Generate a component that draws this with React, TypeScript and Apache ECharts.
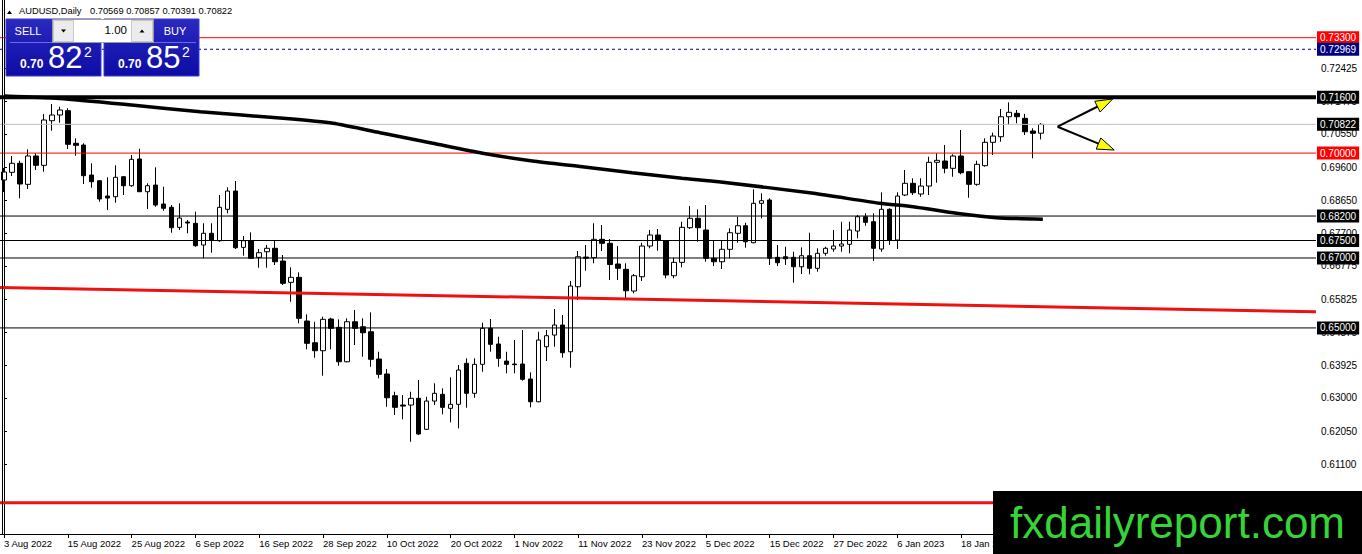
import { useEffect, useRef } from "react";
import * as echarts from "echarts";

// ---------- data ----------
const augDays = [3, 4, 5, 8, 9, 10, 11, 12, 15, 16, 17, 18, 19, 22, 23, 24, 25, 26, 29, 30, 31];
const sepDays = [1, 2, 5, 6, 7, 8, 9, 12, 13, 14, 15, 16, 19, 20, 21, 22, 23, 26, 27, 28, 29, 30];
const octDays = [3, 4, 5, 6, 7, 10, 11, 12, 13, 14, 17, 18, 19, 20, 21, 24, 25, 26, 27, 28, 31];
const novDays = [1, 2, 3, 4, 7, 8, 9, 10, 11, 14, 15, 16, 17, 18, 21, 22, 23, 24, 25, 28, 29, 30];
const decDays = [1, 2, 5, 6, 7, 8, 9, 12, 13, 14, 15, 16, 19, 20, 21, 22, 23, 26, 27, 28, 29, 30];
const janDays = [2, 3, 4, 5, 6, 9, 10, 11, 12, 13, 16, 17, 18, 19, 20, 23, 24, 25, 26, 27, 30, 31];
const febDays = [1];

const dates: string[] = [
  ...augDays.map((d) => `${d} Aug 2022`),
  ...sepDays.map((d) => `${d} Sep 2022`),
  ...octDays.map((d) => `${d} Oct 2022`),
  ...novDays.map((d) => `${d} Nov 2022`),
  ...decDays.map((d) => `${d} Dec 2022`),
  ...janDays.map((d) => `${d} Jan 2023`),
  ...febDays.map((d) => `${d} Feb 2023`),
];

// empty bars to the right of the last candle (chart shift)
const FUTURE_SLOTS = 34;

// [open, high, low, close]
const candles: [number, number, number, number][] = [
  [0.69230, 0.69573, 0.68887, 0.69459],
  [0.69450, 0.69916, 0.69344, 0.69708],
  [0.69708, 0.69782, 0.68707, 0.69116],
  [0.69107, 0.70108, 0.68973, 0.69916],
  [0.69916, 0.69994, 0.69516, 0.69650],
  [0.69650, 0.71118, 0.69467, 0.70946],
  [0.70926, 0.71404, 0.70640, 0.71089],
  [0.71089, 0.71326, 0.70869, 0.71232],
  [0.71212, 0.71281, 0.70117, 0.70251],
  [0.70280, 0.70423, 0.69925, 0.70222],
  [0.70231, 0.70280, 0.69116, 0.69353],
  [0.69373, 0.69708, 0.69010, 0.69181],
  [0.69210, 0.69230, 0.68609, 0.68687],
  [0.68772, 0.69307, 0.68372, 0.68715],
  [0.68752, 0.69650, 0.68581, 0.69307],
  [0.69324, 0.69344, 0.68801, 0.69067],
  [0.69067, 0.69945, 0.69038, 0.69822],
  [0.69831, 0.70125, 0.68890, 0.68895],
  [0.68895, 0.69136, 0.68401, 0.69067],
  [0.69087, 0.69593, 0.68466, 0.68515],
  [0.68544, 0.69038, 0.68352, 0.68421],
  [0.68449, 0.68515, 0.67723, 0.67866],
  [0.67877, 0.68564, 0.67800, 0.68143],
  [0.68029, 0.68086, 0.67706, 0.68000],
  [0.67992, 0.68323, 0.67322, 0.67351],
  [0.67371, 0.67992, 0.66991, 0.67706],
  [0.67706, 0.67992, 0.67151, 0.67514],
  [0.67494, 0.68801, 0.67465, 0.68449],
  [0.68392, 0.69021, 0.68278, 0.68915],
  [0.68915, 0.69201, 0.67257, 0.67294],
  [0.67305, 0.67628, 0.67065, 0.67494],
  [0.67494, 0.67734, 0.66985, 0.66991],
  [0.67019, 0.67257, 0.66722, 0.67151],
  [0.67179, 0.67371, 0.66722, 0.67277],
  [0.67277, 0.67494, 0.66799, 0.66893],
  [0.66913, 0.67085, 0.66227, 0.66276],
  [0.66304, 0.66733, 0.65749, 0.66447],
  [0.66447, 0.66590, 0.65132, 0.65275],
  [0.65197, 0.65389, 0.64388, 0.64560],
  [0.64577, 0.65177, 0.64148, 0.64348],
  [0.64348, 0.65320, 0.63633, 0.65246],
  [0.65255, 0.65292, 0.64388, 0.64989],
  [0.65017, 0.65246, 0.63919, 0.64033],
  [0.64033, 0.65275, 0.64016, 0.65177],
  [0.65177, 0.65512, 0.64511, 0.64989],
  [0.65034, 0.65275, 0.64176, 0.64863],
  [0.64891, 0.65446, 0.63890, 0.64102],
  [0.64111, 0.64319, 0.63559, 0.63673],
  [0.63682, 0.63825, 0.62746, 0.63004],
  [0.63061, 0.63175, 0.62509, 0.62729],
  [0.62795, 0.63081, 0.62386, 0.62766],
  [0.62795, 0.63175, 0.61745, 0.62987],
  [0.62987, 0.63510, 0.61937, 0.61966],
  [0.62100, 0.63032, 0.62080, 0.62909],
  [0.62909, 0.63416, 0.62795, 0.63130],
  [0.63101, 0.63273, 0.62529, 0.62729],
  [0.62701, 0.63587, 0.62300, 0.62815],
  [0.62815, 0.63939, 0.62129, 0.63796],
  [0.63988, 0.64131, 0.62718, 0.63130],
  [0.63130, 0.64131, 0.63004, 0.63959],
  [0.63959, 0.65149, 0.63747, 0.64989],
  [0.64989, 0.65255, 0.64319, 0.64531],
  [0.64540, 0.64748, 0.63890, 0.64131],
  [0.64053, 0.64319, 0.63702, 0.63959],
  [0.63968, 0.64654, 0.63702, 0.63948],
  [0.63968, 0.64940, 0.63490, 0.63530],
  [0.63539, 0.63730, 0.62729, 0.62889],
  [0.62889, 0.64891, 0.62872, 0.64654],
  [0.64462, 0.64940, 0.64053, 0.64777],
  [0.64797, 0.65541, 0.64462, 0.65083],
  [0.65083, 0.65369, 0.64148, 0.64291],
  [0.64319, 0.66341, 0.63862, 0.66198],
  [0.66178, 0.67199, 0.65798, 0.67036],
  [0.67028, 0.67371, 0.66636, 0.66991],
  [0.67008, 0.67992, 0.66848, 0.67534],
  [0.67534, 0.67943, 0.67199, 0.67420],
  [0.67420, 0.67543, 0.66370, 0.66813],
  [0.66828, 0.67342, 0.66370, 0.66705],
  [0.66676, 0.66848, 0.65847, 0.66064],
  [0.66055, 0.66542, 0.65990, 0.66493],
  [0.66464, 0.67437, 0.66341, 0.67342],
  [0.67342, 0.67800, 0.67277, 0.67657],
  [0.67657, 0.67829, 0.67208, 0.67514],
  [0.67494, 0.67514, 0.66419, 0.66513],
  [0.66493, 0.67008, 0.66419, 0.66876],
  [0.66876, 0.68037, 0.66733, 0.67877],
  [0.67866, 0.68486, 0.67829, 0.68135],
  [0.68135, 0.68392, 0.67465, 0.67866],
  [0.67800, 0.68515, 0.66893, 0.66991],
  [0.66991, 0.67494, 0.66770, 0.66893],
  [0.66893, 0.67494, 0.66685, 0.67248],
  [0.67248, 0.67849, 0.66991, 0.67723],
  [0.67706, 0.68180, 0.67437, 0.67923],
  [0.67923, 0.68009, 0.67294, 0.67465],
  [0.67437, 0.68964, 0.67420, 0.68564],
  [0.68564, 0.68850, 0.68135, 0.68638],
  [0.68658, 0.68707, 0.66799, 0.66991],
  [0.67019, 0.67371, 0.66770, 0.66865],
  [0.67036, 0.67322, 0.66799, 0.66979],
  [0.67019, 0.67179, 0.66293, 0.66750],
  [0.66750, 0.67305, 0.66542, 0.67065],
  [0.67065, 0.67723, 0.66533, 0.66705],
  [0.66705, 0.67277, 0.66607, 0.67134],
  [0.67134, 0.67322, 0.67065, 0.67277],
  [0.67257, 0.67800, 0.67179, 0.67342],
  [0.67342, 0.68037, 0.67179, 0.67400],
  [0.67391, 0.68037, 0.67134, 0.67800],
  [0.67771, 0.68229, 0.67563, 0.68180],
  [0.68180, 0.68278, 0.67923, 0.68020],
  [0.68037, 0.68278, 0.66913, 0.67277],
  [0.67257, 0.68878, 0.67179, 0.68392],
  [0.68392, 0.68421, 0.67371, 0.67514],
  [0.67514, 0.68878, 0.67257, 0.68772],
  [0.68801, 0.69516, 0.68772, 0.69136],
  [0.69136, 0.69279, 0.68801, 0.68867],
  [0.68830, 0.69279, 0.68752, 0.69058],
  [0.69058, 0.69896, 0.68801, 0.69736],
  [0.69736, 0.69994, 0.69153, 0.69793],
  [0.69773, 0.70231, 0.69422, 0.69565],
  [0.69565, 0.69965, 0.69324, 0.69916],
  [0.69916, 0.70660, 0.69393, 0.69439],
  [0.69467, 0.69487, 0.68724, 0.69107],
  [0.69107, 0.69782, 0.69067, 0.69679],
  [0.69639, 0.70423, 0.69610, 0.70308],
  [0.70308, 0.70583, 0.69945, 0.70488],
  [0.70468, 0.71261, 0.70325, 0.71040],
  [0.71040, 0.71452, 0.70803, 0.71166],
  [0.71138, 0.71232, 0.70852, 0.71040],
  [0.70995, 0.71118, 0.70517, 0.70611],
  [0.70631, 0.70709, 0.69851, 0.70566],
  [0.70569, 0.70857, 0.70391, 0.70822],
];

// moving average, sampled points [bar position, price]
const maPoints: [number, number][] = [
  [0, 0.71633], [7, 0.71561], [16, 0.71375], [24.6, 0.71183], [35, 0.70995],
  [41.25, 0.70852], [47.5, 0.70566], [53.75, 0.7028], [60, 0.69994], [66.25, 0.69773],
  [72.5, 0.6961], [78.75, 0.69439], [85, 0.69279], [89.6, 0.69181], [101.5, 0.6885],
  [109.8, 0.68564], [114, 0.68466], [119.4, 0.68278], [124.4, 0.68152], [130.25, 0.68106],
];

// red sloped trend line [bar position, price]
const trendPoints: [number, number][] = [
  [-0.5, 0.66156],
  [164.5, 0.65463],
];

// horizontal levels
const levelPrices = [0.733, 0.72969, 0.716, 0.70822, 0.7, 0.682, 0.675, 0.67, 0.65, 0.6];

// arrows [x0, y0, x1, y1] in bar position / price
const arrows: [number, number, number, number][] = [
  [132.1, 0.70754, 139.0, 0.71547],
  [132.1, 0.70754, 139.2, 0.70088],
];

// price axis tick labels
const priceTicks = [
  0.72425, 0.71475, 0.7055, 0.696, 0.6865, 0.677, 0.66775, 0.65825,
  0.64875, 0.63925, 0.63, 0.6205, 0.611,
];

const symbolName = "AUDUSD,Daily";
const sellPrice = ["0.70", "82", "2"];
const buyPrice = ["0.70", "85", "2"];
const lotSize = "1.00";
const watermark = "fxdailyreport.com";

// ---------- styles ----------
const Y_MIN = 0.59107;
const Y_MAX = 0.74378;

const levelStyles: { color: string; width: number; type: any; box: string | null }[] = [
  { color: "#ff0000", width: 1, type: "solid", box: "#ff0000" },
  { color: "#000080", width: 1, type: [3, 3], box: "#000080" },
  { color: "#000000", width: 4, type: "solid", box: "#000000" },
  { color: "#c0c0c0", width: 1, type: "solid", box: "#000000" },
  { color: "#ff0000", width: 1, type: "solid", box: "#ff0000" },
  { color: "#000000", width: 1, type: "solid", box: "#000000" },
  { color: "#000000", width: 1, type: "solid", box: "#000000" },
  { color: "#000000", width: 1, type: "solid", box: "#000000" },
  { color: "#000000", width: 1, type: "solid", box: "#000000" },
  { color: "#ee1111", width: 3, type: "solid", box: null },
];

const FONT = "Liberation Sans";

export default function App() {
  const ref = useRef<HTMLDivElement>(null);

  useEffect(() => {
    if (!ref.current) return;
    const chart = echarts.init(ref.current, undefined, { renderer: "svg" });

    const categories = [
      ...dates,
      ...Array.from({ length: FUTURE_SLOTS }, (_, i) => `slot${i}`),
    ];
    const xLo = -0.5;
    const xHi = categories.length - 0.5;
    const nDates = dates.length;
    const showTick = (i: number) => i % 8 === 0 && i < nDates;

    const last = candles[candles.length - 1];
    const headerValues = [last[0], last[1], last[2], last[3]].map((v) => v.toFixed(5)).join(" ");

    const panelBlue = new echarts.graphic.LinearGradient(0, 0, 0, 1, [
      { offset: 0, color: "#2a2abf" },
      { offset: 1, color: "#0c0ca6" },
    ]);
    const panelBlue2 = new echarts.graphic.LinearGradient(0, 0, 0, 1, [
      { offset: 0, color: "#2a2abf" },
      { offset: 1, color: "#0c0ca6" },
    ]);

    const levelSeries = levelPrices.map((p, i) => {
      const s = levelStyles[i];
      return {
        type: "line",
        name: `level${i}`,
        xAxisIndex: 1,
        yAxisIndex: 0,
        z: i === 2 ? 5 : 4,
        color: s.color,
        silent: true,
        data: [
          [xLo, p],
          [xHi, p],
        ],
        symbol: "none",
        lineStyle: { color: s.color, width: s.width, type: s.type },
        endLabel: s.box
          ? {
              show: true,
              distance: 1,
              formatter: () => p.toFixed(5),
              color: "#ffffff",
              backgroundColor: s.box,
              padding: [1, 3, 1, 3],
              fontSize: 10,
              fontFamily: FONT,
              lineHeight: 11,
              align: "left",
              verticalAlign: "middle",
            }
          : { show: false },
      };
    });

    const option: any = {
      animation: false,
      backgroundColor: "#ffffff",
      textStyle: { fontFamily: FONT },
      grid: { left: -1, right: 46, top: 0, bottom: 20, containLabel: false },
      xAxis: [
        {
          type: "category",
          data: categories,
          boundaryGap: true,
          axisLine: { show: true, lineStyle: { color: "#000000", width: 1 } },
          axisTick: {
            show: true,
            alignWithLabel: true,
            interval: (i: number) => showTick(i),
            length: 4,
            lineStyle: { color: "#000000" },
          },
          axisLabel: {
            show: true,
            interval: (i: number) => showTick(i),
            align: "left",
            color: "#000000",
            fontSize: 9.5,
            fontFamily: FONT,
            margin: 4,
            formatter: (v: string) => v,
          },
          splitLine: { show: false },
        },
        {
          type: "value",
          min: xLo,
          max: xHi,
          show: false,
          splitLine: { show: false },
        },
      ],
      yAxis: {
        type: "value",
        position: "right",
        min: Y_MIN,
        max: Y_MAX,
        axisLine: { show: true, lineStyle: { color: "#000000", width: 1 } },
        axisTick: {
          show: true,
          length: 3,
          customValues: priceTicks,
          lineStyle: { color: "#000000" },
        },
        axisLabel: {
          show: true,
          customValues: priceTicks,
          formatter: (v: number) => v.toFixed(5),
          color: "#000000",
          fontSize: 10,
          fontFamily: FONT,
          margin: 5,
        },
        splitLine: { show: false },
      },
      series: [
        {
          type: "candlestick",
          name: "AUDUSD",
          xAxisIndex: 0,
          yAxisIndex: 0,
          barWidth: 5,
          z: 2,
          data: candles.map(([o, h, l, c]) => [o, c, l, h]),
          itemStyle: {
            color: "#ffffff",
            color0: "#000000",
            borderColor: "#000000",
            borderColor0: "#000000",
            borderWidth: 1,
          },
        },
        ...levelSeries,
        {
          type: "line",
          name: "trend",
          xAxisIndex: 1,
          yAxisIndex: 0,
          z: 4,
          color: "#ee1111",
          silent: true,
          data: trendPoints,
          symbol: "none",
          lineStyle: { color: "#ee1111", width: 3 },
        },
        {
          type: "line",
          name: "MA",
          xAxisIndex: 1,
          yAxisIndex: 0,
          z: 5,
          color: "#000000",
          silent: true,
          data: maPoints,
          symbol: "none",
          smooth: 0.2,
          lineStyle: { color: "#000000", width: 3.5 },
        },
        {
          type: "custom",
          name: "arrows",
          xAxisIndex: 1,
          yAxisIndex: 0,
          z: 6,
          clip: false,
          silent: true,
          dimensions: ["x0", "y0", "x1", "y1"],
          encode: { x: [0, 2], y: [1, 3] },
          data: arrows,
          renderItem: (_params: any, api: any) => {
            const s = api.coord([api.value(0), api.value(1)]);
            const e = api.coord([api.value(2), api.value(3)]);
            const dx = e[0] - s[0];
            const dy = e[1] - s[1];
            const len = Math.hypot(dx, dy) || 1;
            const ux = dx / len;
            const uy = dy / len;
            const headLen = 17;
            const headW = 6;
            const bx = e[0] - ux * headLen;
            const by = e[1] - uy * headLen;
            const px = -uy;
            const py = ux;
            return {
              type: "group",
              children: [
                {
                  type: "line",
                  shape: { x1: s[0], y1: s[1], x2: bx + ux * 2, y2: by + uy * 2 },
                  style: { stroke: "#000000", lineWidth: 2 },
                },
                {
                  type: "polygon",
                  shape: {
                    points: [
                      [e[0], e[1]],
                      [bx + px * headW, by + py * headW],
                      [bx - px * headW, by - py * headW],
                    ],
                  },
                  style: { fill: "#ffff00", stroke: "#000000", lineWidth: 1 },
                },
              ],
            };
          },
        },
      ],
      graphic: {
        elements: [
          // left frame
          {
            type: "line",
            z: 50,
            shape: { x1: 2.5, y1: 0, x2: 2.5, y2: 534 },
            style: { stroke: "#000000", lineWidth: 1 },
          },
          // header
          {
            type: "polygon",
            z: 100,
            shape: { points: [[7, 14], [9.5, 10.5], [12, 14]] },
            style: { fill: "#000000" },
          },
          {
            type: "text",
            z: 100,
            x: 19,
            y: 11,
            style: { text: symbolName, fontSize: 9.3, fontFamily: FONT, fill: "#000000", verticalAlign: "middle" },
          },
          {
            type: "text",
            z: 100,
            x: 90,
            y: 11,
            style: { text: headerValues, fontSize: 9.3, fontFamily: FONT, fill: "#000000", verticalAlign: "middle" },
          },
          // SELL panel
          {
            type: "rect",
            z: 100,
            shape: { x: 6, y: 19, width: 95, height: 57 },
            style: { fill: panelBlue, stroke: "#3a3ad2", lineWidth: 1 },
          },
          {
            type: "line",
            z: 101,
            shape: { x1: 10, y1: 42.5, x2: 97, y2: 42.5 },
            style: { stroke: "#6a6ae8", lineWidth: 1 },
          },
          {
            type: "text",
            z: 102,
            x: 28,
            y: 31,
            style: { text: "SELL", fontSize: 11, fontFamily: FONT, fill: "#ffffff", align: "center", verticalAlign: "middle" },
          },
          {
            type: "text",
            z: 102,
            x: 20,
            y: 64,
            style: { text: sellPrice[0], fontSize: 12, fontWeight: "bold", fontFamily: FONT, fill: "#ffffff", verticalAlign: "middle" },
          },
          {
            type: "text",
            z: 102,
            x: 48,
            y: 57,
            style: { text: sellPrice[1], fontSize: 31, fontFamily: FONT, fill: "#ffffff", verticalAlign: "middle" },
          },
          {
            type: "text",
            z: 102,
            x: 84,
            y: 52,
            style: { text: sellPrice[2], fontSize: 14, fontFamily: FONT, fill: "#ffffff", verticalAlign: "middle" },
          },
          // BUY panel
          {
            type: "rect",
            z: 100,
            shape: { x: 104, y: 19, width: 95, height: 57 },
            style: { fill: panelBlue2, stroke: "#3a3ad2", lineWidth: 1 },
          },
          {
            type: "line",
            z: 101,
            shape: { x1: 108, y1: 42.5, x2: 196, y2: 42.5 },
            style: { stroke: "#6a6ae8", lineWidth: 1 },
          },
          {
            type: "text",
            z: 102,
            x: 175,
            y: 31,
            style: { text: "BUY", fontSize: 11, fontFamily: FONT, fill: "#ffffff", align: "center", verticalAlign: "middle" },
          },
          {
            type: "text",
            z: 102,
            x: 118,
            y: 64,
            style: { text: buyPrice[0], fontSize: 12, fontWeight: "bold", fontFamily: FONT, fill: "#ffffff", verticalAlign: "middle" },
          },
          {
            type: "text",
            z: 102,
            x: 146,
            y: 57,
            style: { text: buyPrice[1], fontSize: 31, fontFamily: FONT, fill: "#ffffff", verticalAlign: "middle" },
          },
          {
            type: "text",
            z: 102,
            x: 182,
            y: 52,
            style: { text: buyPrice[2], fontSize: 14, fontFamily: FONT, fill: "#ffffff", verticalAlign: "middle" },
          },
          // lot box
          {
            type: "rect",
            z: 103,
            shape: { x: 52.5, y: 19.5, width: 101, height: 23 },
            style: { fill: "#ffffff", stroke: "#9a9a9a", lineWidth: 1 },
          },
          {
            type: "rect",
            z: 104,
            shape: { x: 53.5, y: 20.5, width: 20, height: 21 },
            style: { fill: "#ececec", stroke: "#c8c8c8", lineWidth: 1 },
          },
          {
            type: "polygon",
            z: 105,
            shape: { points: [[61, 29.5], [66, 29.5], [63.5, 32.5]] },
            style: { fill: "#000000" },
          },
          {
            type: "rect",
            z: 104,
            shape: { x: 131.5, y: 20.5, width: 21, height: 21 },
            style: { fill: "#ececec", stroke: "#c8c8c8", lineWidth: 1 },
          },
          {
            type: "polygon",
            z: 105,
            shape: { points: [[139.5, 32.5], [144.5, 32.5], [142, 29.5]] },
            style: { fill: "#000000" },
          },
          {
            type: "text",
            z: 105,
            x: 127,
            y: 30,
            style: { text: lotSize, fontSize: 11.5, fontFamily: FONT, fill: "#000000", align: "right", verticalAlign: "middle" },
          },
          // watermark
          {
            type: "rect",
            z: 200,
            shape: { x: 993, y: 491, width: 369, height: 63 },
            style: { fill: "#000000" },
          },
          {
            type: "text",
            z: 201,
            x: 1010,
            y: 522,
            style: { text: watermark, fontSize: 44, fontFamily: FONT, fill: "#36d436", verticalAlign: "middle" },
          },
        ],
      },
    };

    chart.setOption(option);
    return () => {
      chart.dispose();
    };
  }, []);

  return (
    <div
      ref={ref}
      style={{ position: "fixed", left: 0, top: 0, width: 1362, height: 554, background: "#ffffff" }}
    />
  );
}
